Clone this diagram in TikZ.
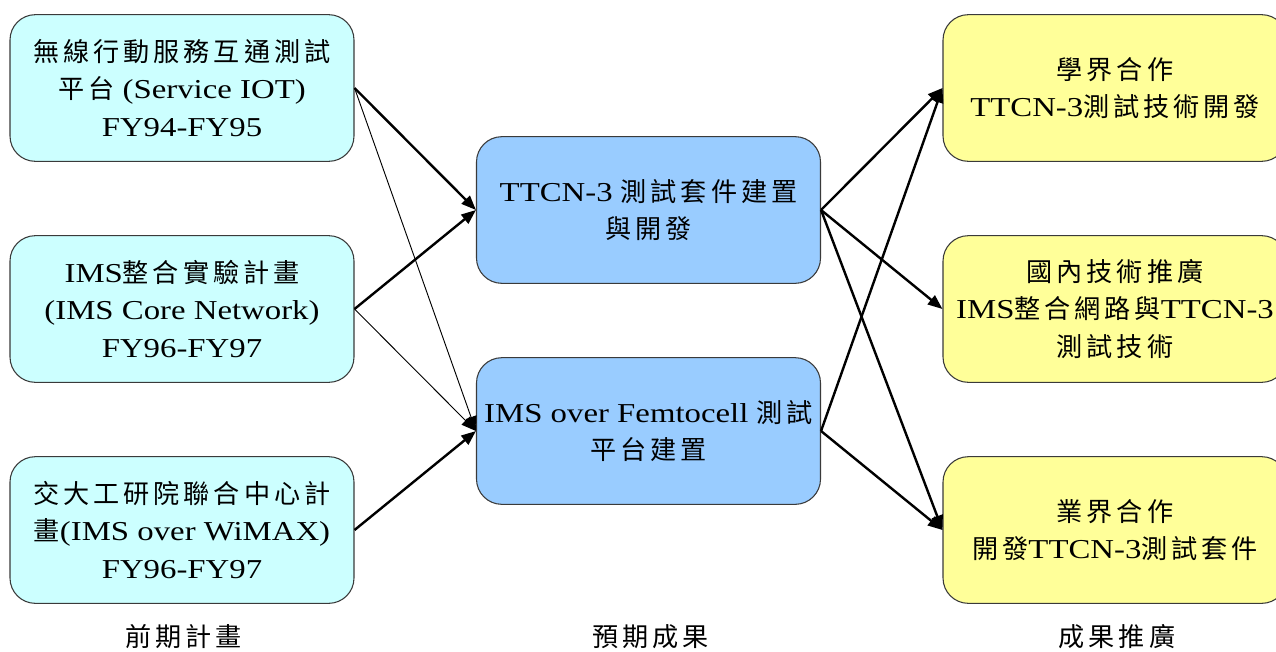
\documentclass[tikz,border=0pt]{standalone}
\usepackage{fontspec}
\setmainfont{Liberation Serif}[FakeStretch=1.2]
\newfontfamily\zh{Noto Sans CJK TC}[LetterSpace=15]
\usetikzlibrary{arrows.meta}

\definecolor{prevfill}{HTML}{CCFFFF}
\definecolor{goalfill}{HTML}{99CCFF}
\definecolor{promofill}{HTML}{FFFF99}
\definecolor{edgegray}{HTML}{3A3A3A}

\newcommand{\zt}[1]{{\zh\fontsize{19.6pt}{28pt}\selectfont #1}}

\tikzset{
  box/.style={draw=edgegray, line width=0.8pt, rounded corners=19pt,
    minimum width=258pt, minimum height=110pt, align=center,
    font=\fontsize{20.5pt}{28.2pt}\selectfont, inner sep=0pt},
  prevbox/.style={box, fill=prevfill},
  goalbox/.style={box, fill=goalfill},
  promobox/.style={box, fill=promofill},
  heavy/.style={line width=1.8pt, -{Triangle[length=11pt,width=8.5pt]}},
  light/.style={line width=0.7pt, -{Triangle[length=11pt,width=8.5pt]}},
  caption/.style={inner sep=0pt}
}

\begin{document}
\begin{tikzpicture}[x=0.75pt,y=-0.75pt]
  \useasboundingbox (0,0) rectangle (1276,651);
  \clip (0,0) rectangle (1276,651);

  % previous projects
  \node[prevbox] (p1) at (182,88)
    {\zt{無線行動服務互通測試}\\\zt{平台} (Service IOT)\\FY94-FY95};
  \node[prevbox] (p2) at (182,309)
    {IMS\zt{整合實驗計畫}\\(IMS Core Network)\\FY96-FY97};
  \node[prevbox] (p3) at (182,530)
    {\zt{交大工研院聯合中心計}\\\zt{畫}(IMS over WiMAX)\\FY96-FY97};

  % expected results
  \node[goalbox] (g1) at (648.5,210)
    {TTCN-3 \zt{測試套件建置}\\\zt{與開發}};
  \node[goalbox] (g2) at (648.5,431)
    {IMS over Femtocell \zt{測試}\\\zt{平台建置}};

  % dissemination
  \node[promobox] (r1) at (1115,88)
    {\zt{學界合作}\\TTCN-3\zt{測試技術開發}};
  \node[promobox] (r2) at (1115,309)
    {\zt{國內技術推廣}\\IMS\zt{整合網路與}TTCN-3\\\zt{測試技術}};
  \node[promobox] (r3) at (1115,530)
    {\zt{業界合作}\\\zt{開發}TTCN-3\zt{測試套件}};

  % column captions
  \node[caption] (c1) at (184,637) {\zt{前期計畫}};
  \node[caption] (c2) at (651,637) {\zt{預期成果}};
  \node[caption] (c3) at (1117,637) {\zt{成果推廣}};

  % connectors
  \draw[heavy] (p1.east) -- (g1.west);
  \draw[light] (p1.east) -- (g2.west);
  \draw[heavy] (p2.east) -- (g1.west);
  \draw[light] (p2.east) -- (g2.west);
  \draw[heavy] (p3.east) -- (g2.west);

  \draw[heavy] (g1.east) -- (r1.west);
  \draw[heavy] (g1.east) -- (r2.west);
  \draw[heavy] (g1.east) -- (r3.west);
  \draw[heavy] (g2.east) -- (r1.west);
  \draw[heavy] (g2.east) -- (r3.west);
\end{tikzpicture}
\end{document}
